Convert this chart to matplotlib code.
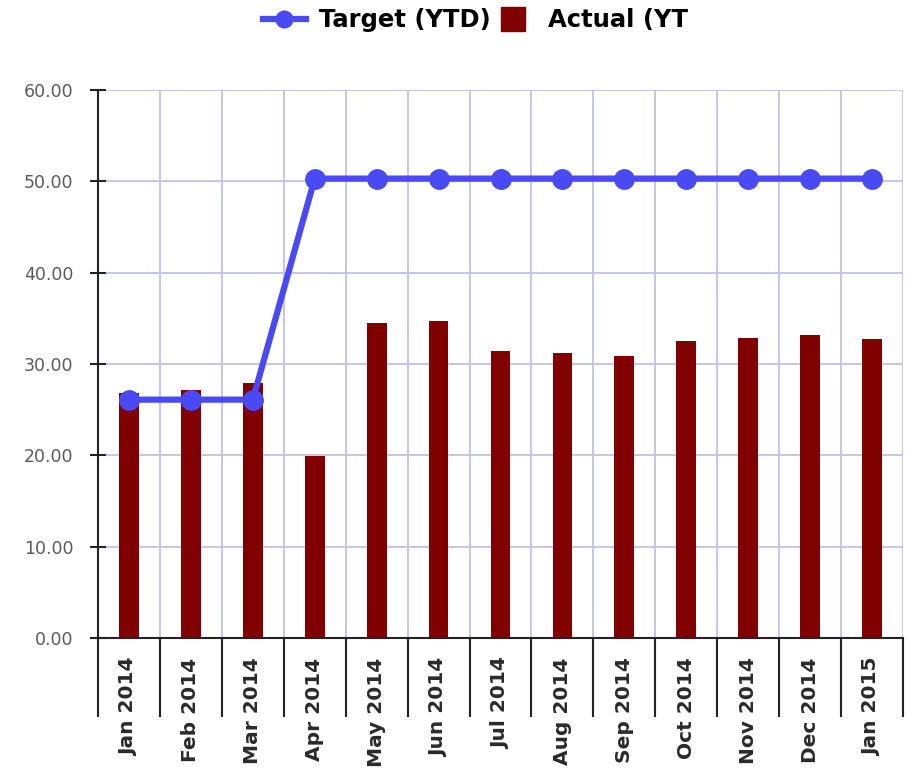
"""
Monthly target vs actual (year to date) chart.
"""
import matplotlib
matplotlib.use('Agg')
import matplotlib.pyplot as plt
from matplotlib.lines import Line2D
import numpy as np

months = ['Jan 2014', 'Feb 2014', 'Mar 2014', 'Apr 2014', 'May 2014', 'Jun 2014',
          'Jul 2014', 'Aug 2014', 'Sep 2014', 'Oct 2014', 'Nov 2014', 'Dec 2014',
          'Jan 2015']
target_ytd = [26.1, 26.1, 26.1, 50.3, 50.3, 50.3, 50.3, 50.3, 50.3, 50.3, 50.3, 50.3, 50.3]
actual_ytd = [26.8, 27.2, 27.9, 19.9, 34.5, 34.7, 31.4, 31.2, 30.9, 32.5, 32.9, 33.2, 32.7]

BAR_COLOR = '#800000'
LINE_COLOR = '#4a4af5'
GRID_COLOR = '#c0c0ec'

fig = plt.figure(figsize=(9.1, 7.76), dpi=100)
ax = fig.add_axes([0.1077, 0.1778, 0.8846, 0.7062])

x = np.arange(len(months)) + 0.5
ax.bar(x, actual_ytd, width=0.32, color=BAR_COLOR, zorder=2)
ax.plot(x, target_ytd, color=LINE_COLOR, linewidth=4.5, marker='o',
        markersize=14, zorder=3)

ax.set_xlim(0, len(months))
ax.set_ylim(0, 60)

# category boundaries: gridlines above, long separators below the axis
ax.set_xticks(np.arange(len(months) + 1), minor=True)
ax.set_xticks(x)
ax.set_xticklabels(months, rotation=90, fontsize=14.5, fontweight='bold',
                   color='#2a2a2a', va='top', ha='center')
ax.tick_params(axis='x', which='major', length=0, pad=14)
ax.tick_params(axis='x', which='minor', length=57, width=1.5, color='#222222',
               direction='out')
ax.grid(True, axis='x', which='minor', color=GRID_COLOR, linewidth=1.3, zorder=0)

ax.set_yticks(np.arange(0, 61, 10))
ax.set_yticklabels([f'{v:.2f}' for v in np.arange(0, 61, 10)],
                   fontsize=12.5, color='#5a5a5a')
ax.tick_params(axis='y', direction='inout', length=11.5, width=1.5,
               color='#222222', pad=12)
ax.grid(True, axis='y', color=GRID_COLOR, linewidth=1.3, zorder=0)
ax.set_axisbelow(True)

for side in ['top', 'right']:
    ax.spines[side].set_visible(False)
for side in ['left', 'bottom']:
    ax.spines[side].set_color('#222222')
    ax.spines[side].set_linewidth(1.5)

handles = [
    Line2D([0], [0], color=LINE_COLOR, linewidth=4.5, marker='o', markersize=12),
    Line2D([0], [0], color=BAR_COLOR, linestyle='none', marker='s', markersize=17),
]
fig.legend(handles, ['Target (YTD)', 'Actual (YT'], loc='center',
           bbox_to_anchor=(0.522, 0.974), ncol=2, frameon=False,
           prop={'weight': 'bold', 'size': 17.5}, handlelength=1.8,
           handletextpad=0.53, columnspacing=0.0)

fig.savefig('out.png', dpi=100, facecolor='white')
